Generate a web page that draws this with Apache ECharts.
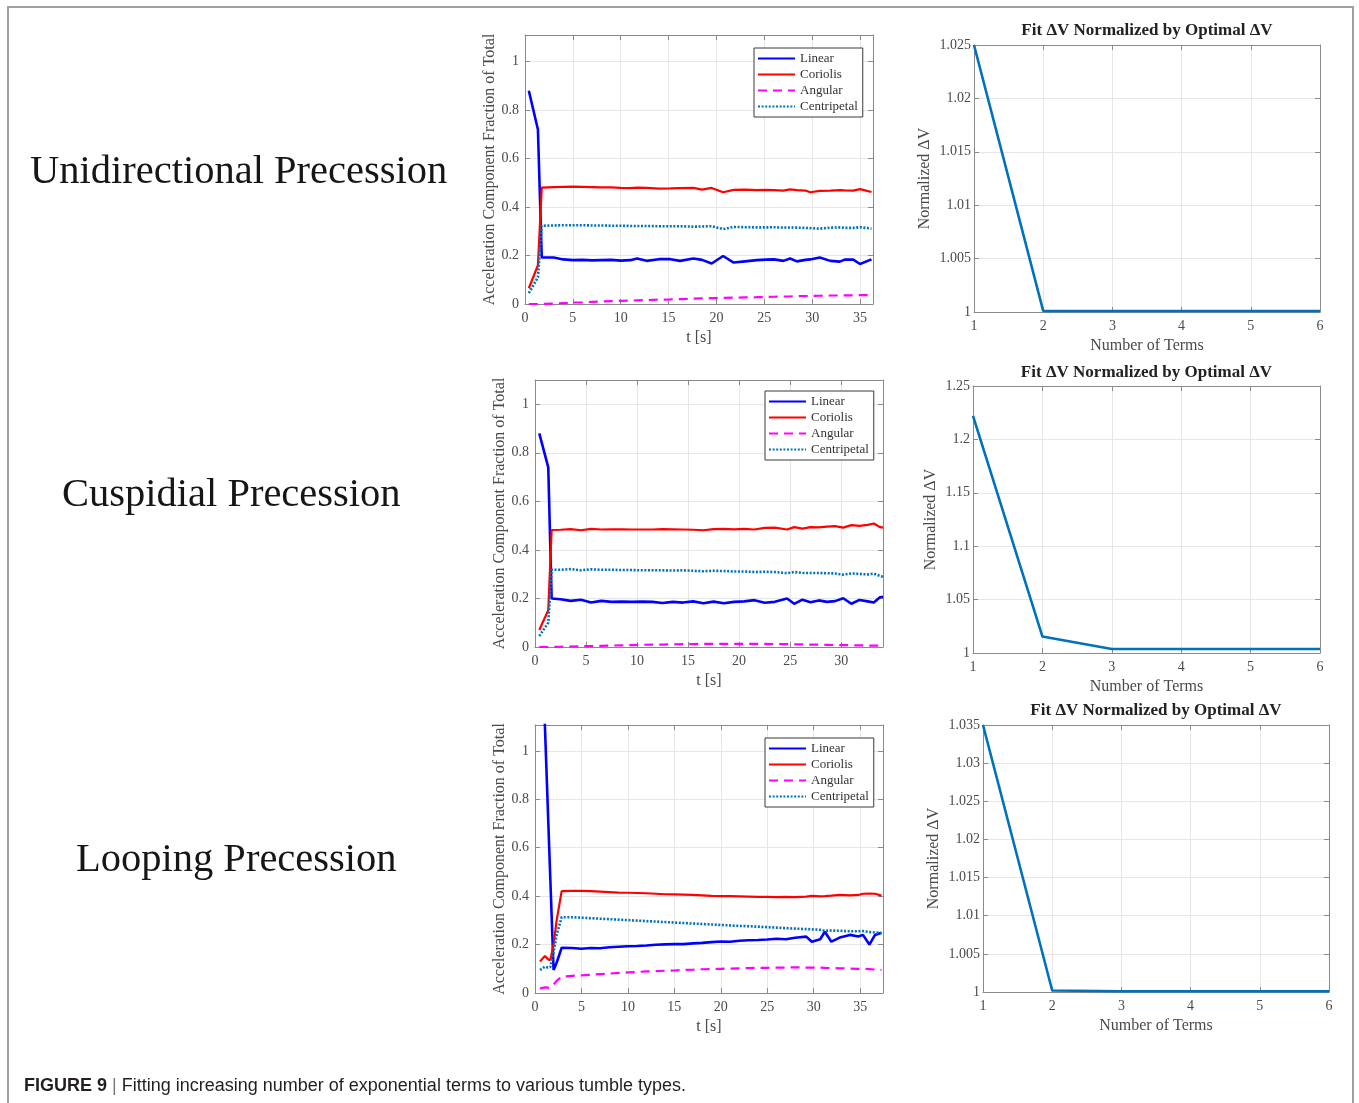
<!DOCTYPE html>
<html>
<head>
<meta charset="utf-8">
<title>Figure 9</title>
<script src="https://cdn.jsdelivr.net/npm/echarts@6/dist/echarts.min.js"></script>
<style>
  html, body { margin: 0; padding: 0; background: #fff; }
  #chart { width: 1359px; height: 1103px; }
</style>
</head>
<body>
<div id="chart"></div>
<script>
// values
const seriesNames = ['Linear', 'Coriolis', 'Angular', 'Centripetal'];
const terms = [1, 2, 3, 4, 5, 6];

// unidirectional precession
const uniT = [0.4, 1.35, 1.75, 3, 4, 5, 6, 7, 8, 9, 10, 11, 11.7, 12.7, 14, 15.2, 16.2, 17.6, 18.5, 19.5,
  20.7, 21.8, 23, 24.2, 25.2, 26, 27, 27.7, 28.4, 29.3, 29.8, 30.8, 31.9, 32.9, 33.4, 34.3, 35, 36.2];
const uniLinear = [0.88, 0.72, 0.192, 0.192, 0.184, 0.181, 0.182, 0.18, 0.181, 0.182, 0.179, 0.181, 0.188, 0.178,
  0.185, 0.185, 0.178, 0.188, 0.182, 0.167, 0.198, 0.171, 0.176, 0.181, 0.183, 0.184, 0.178, 0.188, 0.176, 0.182,
  0.184, 0.192, 0.178, 0.175, 0.183, 0.183, 0.165, 0.184];
const uniCoriolis = [0.065, 0.16, 0.48, 0.482, 0.483, 0.484, 0.483, 0.482, 0.481, 0.481, 0.479, 0.478, 0.48, 0.479,
  0.476, 0.477, 0.478, 0.479, 0.472, 0.479, 0.461, 0.471, 0.472, 0.47, 0.471, 0.47, 0.468, 0.473, 0.47, 0.468,
  0.461, 0.467, 0.468, 0.47, 0.469, 0.468, 0.474, 0.462];
const uniAngular = [0, 0, 0, 0.002, 0.004, 0.006, 0.007, 0.009, 0.01, 0.012, 0.013, 0.014, 0.015, 0.016,
  0.018, 0.019, 0.02, 0.022, 0.023, 0.024, 0.025, 0.026, 0.027, 0.028, 0.029, 0.03, 0.031, 0.031, 0.032, 0.033,
  0.033, 0.034, 0.035, 0.035, 0.036, 0.036, 0.037, 0.037];
const uniCentripetal = [0.045, 0.11, 0.323, 0.324, 0.325, 0.325, 0.325, 0.324, 0.324, 0.323, 0.323, 0.322, 0.322, 0.322,
  0.321, 0.321, 0.321, 0.319, 0.32, 0.321, 0.309, 0.318, 0.317, 0.316, 0.316, 0.317, 0.315, 0.316, 0.315, 0.314,
  0.313, 0.311, 0.315, 0.316, 0.314, 0.314, 0.317, 0.311];
const uniDV = [1.025, 1.0001, 1.0001, 1.0001, 1.0001, 1.0001];

// cuspidial precession
const cusT = [0.42, 1.3, 1.63, 2.5, 3.5, 4.5, 5.5, 6.5, 7.5, 8.5, 9.5, 10.5, 11.5, 12.5, 13.5, 14.5, 15.5, 16.5,
  17.5, 18.5, 19.5, 20.5, 21.5, 22.5, 23.5, 24.7, 25.4, 26.2, 27, 27.8, 28.6, 29.4, 30.2, 31, 31.8, 32.6, 33.2, 33.8, 34.1];
const cusLinear = [0.88, 0.74, 0.2, 0.197, 0.19, 0.195, 0.183, 0.19, 0.186, 0.187, 0.186, 0.187, 0.186, 0.181, 0.186,
  0.183, 0.188, 0.18, 0.187, 0.18, 0.186, 0.188, 0.193, 0.182, 0.186, 0.2, 0.178, 0.195, 0.184, 0.192, 0.186, 0.189,
  0.201, 0.178, 0.194, 0.188, 0.183, 0.205, 0.207];
const cusCoriolis = [0.07, 0.152, 0.482, 0.483, 0.486, 0.481, 0.487, 0.484, 0.485, 0.485, 0.484, 0.484, 0.484, 0.486,
  0.485, 0.484, 0.483, 0.481, 0.486, 0.487, 0.485, 0.487, 0.484, 0.491, 0.492, 0.484, 0.494, 0.488, 0.494, 0.493,
  0.496, 0.498, 0.492, 0.502, 0.499, 0.503, 0.509, 0.494, 0.492];
const cusAngular = [0, 0, 0, 0.001, 0.002, 0.003, 0.004, 0.005, 0.006, 0.007, 0.008, 0.009, 0.01, 0.01, 0.011, 0.012,
  0.012, 0.013, 0.013, 0.013, 0.013, 0.013, 0.013, 0.013, 0.012, 0.012, 0.011, 0.011, 0.01, 0.01, 0.009, 0.008,
  0.008, 0.007, 0.007, 0.006, 0.006, 0.005, 0.005];
const cusCentripetal = [0.045, 0.1, 0.318, 0.318, 0.321, 0.316, 0.32, 0.318, 0.318, 0.317, 0.317, 0.316, 0.316, 0.316,
  0.315, 0.316, 0.314, 0.312, 0.314, 0.313, 0.311, 0.311, 0.309, 0.31, 0.309, 0.304, 0.309, 0.305, 0.305, 0.305,
  0.304, 0.303, 0.298, 0.303, 0.301, 0.299, 0.302, 0.293, 0.289];
const cusDV = [1.222, 1.0155, 1.0037, 1.0037, 1.0037, 1.0037];

// looping precession
const loopT = [0.54, 1.07, 1.4, 1.65, 2.0, 2.33, 2.87, 4, 5, 6, 7, 8, 9, 10, 11, 12, 13, 14, 15, 16, 17, 18, 19, 20,
  21, 22, 23, 24, 25, 26, 27, 28, 29.2, 29.8, 30.7, 31.2, 31.9, 32.8, 33.9, 34.8, 35.3, 36, 36.6, 37.3];
const loopLinear = [1.67, 1.1, 0.74, 0.47, 0.095, 0.125, 0.187, 0.186, 0.183, 0.186, 0.185, 0.189, 0.191, 0.193,
  0.194, 0.196, 0.199, 0.201, 0.202, 0.202, 0.205, 0.207, 0.21, 0.213, 0.212, 0.216, 0.218, 0.219, 0.221, 0.224,
  0.222, 0.228, 0.233, 0.212, 0.222, 0.253, 0.212, 0.229, 0.24, 0.233, 0.24, 0.2, 0.24, 0.249];
const loopCoriolis = [0.13, 0.153, 0.139, 0.136, 0.2, 0.3, 0.421, 0.422, 0.422, 0.421, 0.419, 0.417, 0.415, 0.414,
  0.413, 0.412, 0.41, 0.408, 0.407, 0.406, 0.405, 0.403, 0.401, 0.4, 0.4, 0.399, 0.398, 0.397, 0.397, 0.396,
  0.397, 0.396, 0.398, 0.401, 0.399, 0.4, 0.402, 0.405, 0.403, 0.405, 0.41, 0.411, 0.41, 0.402];
const loopAngular = [0.019, 0.023, 0.022, 0.025, 0.035, 0.05, 0.067, 0.071, 0.073, 0.075, 0.078, 0.08, 0.083, 0.085,
  0.087, 0.089, 0.09, 0.092, 0.093, 0.095, 0.096, 0.098, 0.099, 0.1, 0.101, 0.102, 0.103, 0.104, 0.104, 0.105,
  0.105, 0.106, 0.105, 0.105, 0.105, 0.104, 0.103, 0.102, 0.101, 0.1, 0.1, 0.099, 0.097, 0.095];
const loopCentripetal = [0.095, 0.109, 0.105, 0.107, 0.17, 0.24, 0.313, 0.313, 0.311, 0.309, 0.307, 0.305, 0.303, 0.301,
  0.299, 0.297, 0.295, 0.293, 0.291, 0.289, 0.287, 0.285, 0.283, 0.281, 0.279, 0.277, 0.276, 0.274, 0.272, 0.27,
  0.268, 0.266, 0.264, 0.263, 0.261, 0.257, 0.258, 0.257, 0.255, 0.255, 0.256, 0.252, 0.25, 0.247];
const loopDV = [1.035, 1.0002, 1.0001, 1.0001, 1.0001, 1.0001];

const rowLabels = ['Unidirectional Precession', 'Cuspidial Precession', 'Looping Precession'];
const plotTitle = 'Fit \u0394V Normalized by Optimal \u0394V';
const caption = 'Fitting increasing number of exponential terms to various tumble types.';

// layout
const serif = "'Liberation Serif', 'DejaVu Serif', serif";
const sans = "'Liberation Sans', Arial, sans-serif";
const boxColor = '#8a8a8a';
const lineStyles = [
  { color: '#0000ff', width: 2.6 },
  { color: '#ff0000', width: 2.2 },
  { color: '#ff00ff', width: 2.2, type: [9, 6] },
  { color: '#0072bd', width: 2.6, type: [2, 1.6] }
];

const leftPanels = [
  { left: 525, top: 35, width: 348, height: 269, xMax: 36.36, yMax: 1.11, t: uniT,
    vals: [uniLinear, uniCoriolis, uniAngular, uniCentripetal], legendPos: [754, 48] },
  { left: 535, top: 380, width: 348, height: 267, xMax: 34.1, yMax: 1.1, t: cusT,
    vals: [cusLinear, cusCoriolis, cusAngular, cusCentripetal], legendPos: [765, 391] },
  { left: 535, top: 725, width: 348, height: 268, xMax: 37.46, yMax: 1.107, t: loopT,
    vals: [loopLinear, loopCoriolis, loopAngular, loopCentripetal], legendPos: [765, 738] }
];
const rightPanels = [
  { left: 974, top: 45, width: 346, height: 267, yMax: 1.025, yStep: 0.005, vals: uniDV, yGap: 41, titleY: 31 },
  { left: 973, top: 386, width: 347, height: 267, yMax: 1.25, yStep: 0.05, vals: cusDV, yGap: 34, titleY: 373 },
  { left: 983, top: 725, width: 346, height: 267, yMax: 1.035, yStep: 0.005, vals: loopDV, yGap: 41, titleY: 711 }
];
const labelPos = [[30, 172], [62, 495], [76, 860]];

const grid = [], xAxis = [], yAxis = [], series = [], legend = [], graphic = [];

function addPanel(p, x, y) {
  const g = grid.length;
  grid.push({ left: p.left, top: p.top, width: p.width, height: p.height, outerBoundsMode: 'none' });
  const line = { show: true, onZero: false, lineStyle: { color: boxColor, width: 1 } };
  const tick = { show: true, inside: true, length: 5, lineStyle: { color: boxColor } };
  const label = { fontFamily: serif, fontSize: 14, color: '#4a4a4a' };
  const nameStyle = { fontFamily: serif, fontSize: 16, color: '#4a4a4a' };
  const split = { show: true, lineStyle: { color: '#e6e6e6' } };
  xAxis.push({ type: 'value', gridIndex: g, position: 'bottom', min: x.min, max: x.max, interval: x.step,
    name: x.name, nameLocation: 'middle', nameGap: x.gap, nameTextStyle: nameStyle,
    axisLine: line, axisTick: tick, splitLine: split,
    axisLabel: Object.assign({ margin: 7, showMaxLabel: x.showMax }, label) });
  xAxis.push({ type: 'value', gridIndex: g, position: 'top', min: x.min, max: x.max, interval: x.step,
    axisLine: line, axisTick: tick, axisLabel: { show: false }, splitLine: { show: false } });
  yAxis.push({ type: 'value', gridIndex: g, position: 'left', min: y.min, max: y.max, interval: y.step,
    name: y.name, nameLocation: 'middle', nameGap: y.gap, nameTextStyle: nameStyle,
    axisLine: line, axisTick: tick, splitLine: split,
    axisLabel: Object.assign({ margin: y.margin, showMaxLabel: y.showMax }, label) });
  yAxis.push({ type: 'value', gridIndex: g, position: 'right', min: y.min, max: y.max, interval: y.step,
    axisLine: line, axisTick: tick, axisLabel: { show: false }, splitLine: { show: false } });
  return 2 * g;
}

leftPanels.forEach(function (p) {
  const idx = addPanel(p,
    { min: 0, max: p.xMax, step: 5, name: 't [s]', gap: 26, showMax: false },
    { min: 0, max: p.yMax, step: 0.2, name: 'Acceleration Component Fraction of Total', gap: 27, margin: 6, showMax: false });
  seriesNames.forEach(function (name, k) {
    series.push({
      type: 'line', name: name, xAxisIndex: idx, yAxisIndex: idx,
      data: p.t.map(function (t, i) { return [t, p.vals[k][i]]; }),
      symbol: 'none', clip: true, lineStyle: lineStyles[k], itemStyle: { color: lineStyles[k].color }
    });
  });
  legend.push({
    left: p.legendPos[0], top: p.legendPos[1], orient: 'vertical', data: seriesNames,
    itemWidth: 37, itemHeight: 10, itemGap: 3, padding: [4, 5, 4, 3],
    borderColor: '#3a3a3a', borderWidth: 1, borderRadius: 0, backgroundColor: '#fff',
    itemStyle: { opacity: 0 },
    selectedMode: false, textStyle: { fontFamily: serif, fontSize: 13, color: '#333' }
  });
});

rightPanels.forEach(function (p) {
  const idx = addPanel(p,
    { min: 1, max: 6, step: 1, name: 'Number of Terms', gap: 26, showMax: true },
    { min: 1, max: p.yMax, step: p.yStep, name: 'Normalized \u0394V', gap: p.yGap, margin: 3, showMax: true });
  series.push({
    type: 'line', xAxisIndex: idx, yAxisIndex: idx,
    data: terms.map(function (n, i) { return [n, p.vals[i]]; }),
    symbol: 'none', clip: false, lineStyle: { color: '#0072bd', width: 2.6 }
  });
  graphic.push({
    type: 'text', x: p.left + p.width / 2, y: p.titleY,
    style: { text: plotTitle, align: 'center', verticalAlign: 'middle', fontFamily: serif,
      fontSize: 17, fontWeight: 'bold', fill: '#222' }
  });
});

rowLabels.forEach(function (text, i) {
  graphic.push({
    type: 'text', x: labelPos[i][0], y: labelPos[i][1],
    style: { text: text, verticalAlign: 'middle', fontFamily: serif, fontSize: 40.5, fill: '#161616' }
  });
});

// frame round the figure and the caption
graphic.push({
  type: 'polyline', shape: { points: [[8, 1103], [8, 7], [1353, 7], [1353, 1103]] },
  style: { stroke: '#a0a0a0', lineWidth: 2, fill: null }
});
graphic.push({
  type: 'text', x: 24, y: 1086,
  style: {
    text: '{b|FIGURE 9} {s||} ' + caption, verticalAlign: 'middle',
    fontFamily: sans, fontSize: 18, fill: '#231f20',
    rich: { b: { fontWeight: 'bold', fontSize: 18, fontFamily: sans, fill: '#231f20' },
            s: { fontSize: 18, fontFamily: sans, fill: '#777' } }
  }
});

const chart = echarts.init(document.getElementById('chart'));
chart.setOption({
  animation: false,
  backgroundColor: '#fff',
  grid: grid,
  xAxis: xAxis,
  yAxis: yAxis,
  legend: legend,
  series: series,
  graphic: graphic
});
</script>
</body>
</html>
